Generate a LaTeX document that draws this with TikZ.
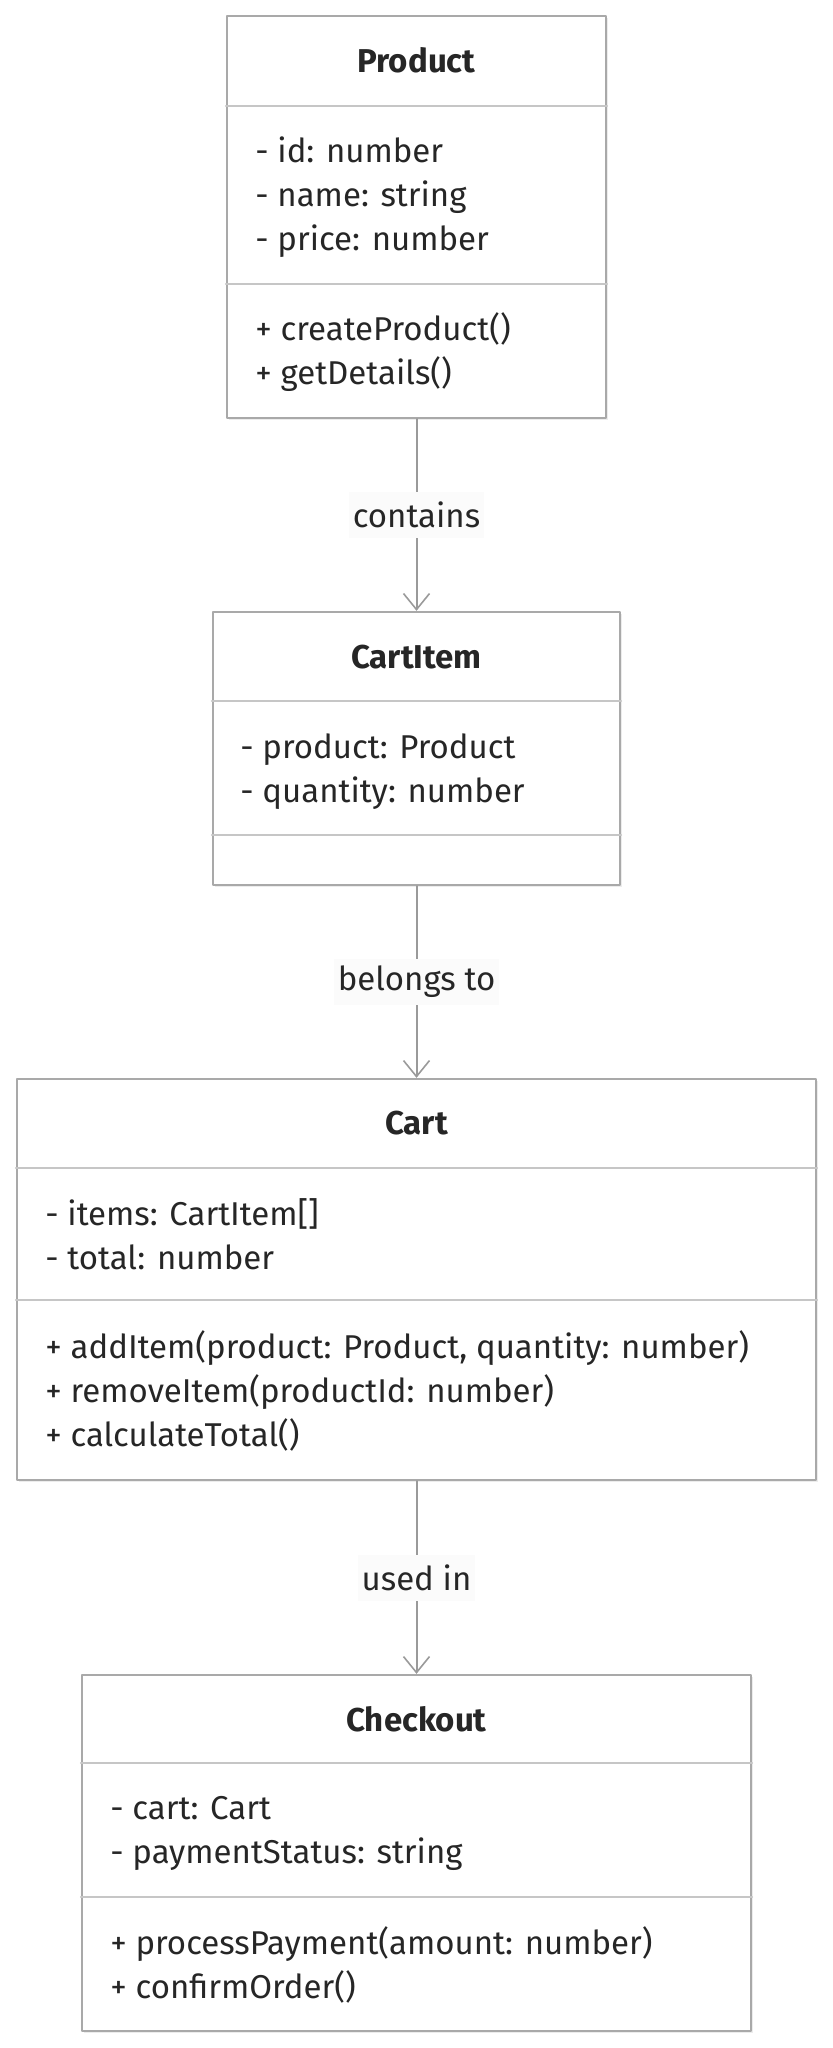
\documentclass[tikz,border=0pt]{standalone}
\usepackage{fontspec}
\setmainfont{Fira Sans}
\usetikzlibrary{arrows.meta,shadows}
\definecolor{boxgray}{HTML}{A9A9A9}
\definecolor{sepgray}{HTML}{C6C6C6}
\definecolor{linegray}{HTML}{9A9A9A}
\definecolor{txtgray}{HTML}{262626}
\definecolor{labelbg}{HTML}{FBFBFB}
\newcommand{\umlfont}{\fontsize{16.5}{20}\selectfont}
\tikzset{
  classbox/.style={draw=boxgray, fill=white, line width=1.2pt, inner sep=0pt,
    drop shadow={shadow xshift=0.8pt, shadow yshift=-0.8pt, opacity=0.15}},
  sepline/.style={draw=sepgray, line width=1pt},
  classname/.style={anchor=base, inner sep=0pt, font=\umlfont\bfseries, text=txtgray},
  member/.style={anchor=base west, inner sep=0pt, font=\umlfont, text=txtgray},
  rel/.style={draw=linegray, line width=1pt,
    -{Straight Barb[length=8pt, width=13pt, line width=0.8pt]}},
  rellabel/.style={fill=labelbg, inner xsep=2pt, inner ysep=0pt, minimum height=23pt,
    font=\umlfont, text=txtgray}
}
\begin{document}
\begin{tikzpicture}[x=0.5pt, y=-0.5pt, line join=round, line cap=round]
  \useasboundingbox (0,0) rectangle (833,2048);
  % class boxes
  \node[classbox, minimum width=189.5pt, minimum height=201pt] (product) at (416.5,217) {};
  \node[classbox, minimum width=203.5pt, minimum height=136.5pt] (cartitem) at (416.5,748.5) {};
  \node[classbox, minimum width=399.5pt, minimum height=200.5pt] (cart) at (416.5,1279.5) {};
  \node[classbox, minimum width=334.5pt, minimum height=178pt] (checkout) at (416.5,1853) {};
  % compartments
  \foreach \c/\ya/\yb in {product/106/284, cartitem/701/835, cart/1168/1300, checkout/1763/1897}
    \draw[sepline] (\c.west |- 0,\ya) -- (\c.east |- 0,\ya)
      (\c.west |- 0,\yb) -- (\c.east |- 0,\yb);
  % names
  \node[classname] (product-n) at (416.5,73) {Product};
  \node[classname] (cartitem-n) at (416.5,668) {CartItem};
  \node[classname] (cart-n) at (416.5,1134) {Cart};
  \node[classname] (checkout-n) at (416.5,1731) {Checkout};
  % members
  \foreach \t [count=\i from 0] in {- id: number, - name: string, - price: number}
    \node[member] (product-a\i) at (255,{163+44*\i}) {\t};
  \foreach \t [count=\i from 0] in {+ createProduct(), + getDetails()}
    \node[member] (product-m\i) at (255,{341+44*\i}) {\t};
  \foreach \t [count=\i from 0] in {- product: Product, - quantity: number}
    \node[member] (cartitem-a\i) at (240,{758+44*\i}) {\t};
  \foreach \t [count=\i from 0] in {- items: CartItem[], - total: number}
    \node[member] (cart-a\i) at (45,{1225+44*\i}) {\t};
  \foreach \t [count=\i from 0] in {{+ addItem(product: Product, quantity: number)},
      + removeItem(productId: number), + calculateTotal()}
    \node[member] (cart-m\i) at (45,{1358+44*\i}) {\t};
  \foreach \t [count=\i from 0] in {- cart: Cart, - paymentStatus: string}
    \node[member] (checkout-a\i) at (110,{1819+44*\i}) {\t};
  \foreach \t [count=\i from 0] in {+ processPayment(amount: number), + confirmOrder()}
    \node[member] (checkout-m\i) at (110,{1954+44*\i}) {\t};
  % relations
  \draw[rel] (product) -- node[rellabel] {contains} (cartitem);
  \draw[rel] (cartitem) -- node[rellabel] {belongs to} (cart);
  \draw[rel] (cart) -- node[rellabel] {used in} (checkout);
\end{tikzpicture}
\end{document}
